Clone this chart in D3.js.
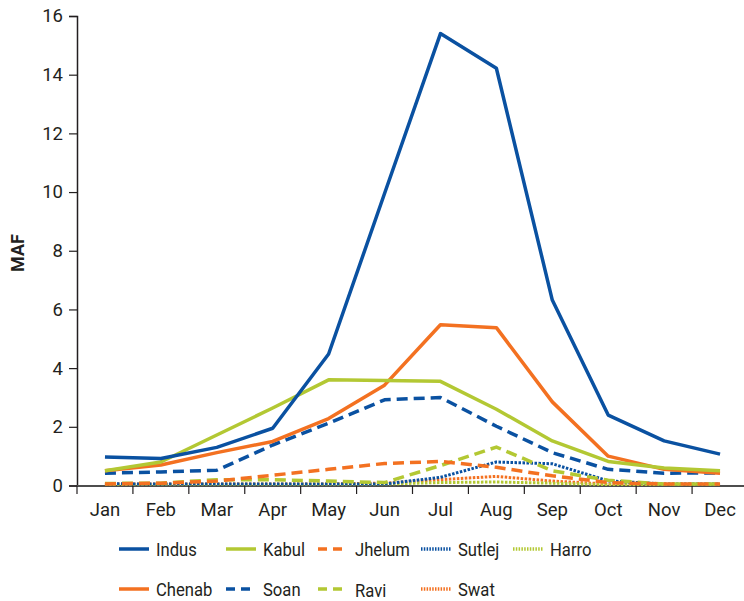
<!DOCTYPE html>
<html><head><meta charset="utf-8">
<script src="https://cdn.jsdelivr.net/npm/d3@7"></script>
<style>
body{margin:0;background:#fff;}
svg{display:block;font-family:Roboto,"Noto Sans",sans-serif;}
</style></head>
<body><svg id="c" width="744" height="601"></svg>
<script>
const months = ["Jan","Feb","Mar","Apr","May","Jun","Jul","Aug","Sep","Oct","Nov","Dec"];
const yTicks = [0,2,4,6,8,10,12,14,16];
const indus  = [0.97,0.92,1.3,1.95,4.48,9.95,15.4,14.22,6.32,2.4,1.52,1.07];
const kabul  = [0.5,0.8,1.72,2.64,3.6,3.58,3.55,2.6,1.52,0.82,0.6,0.5];
const jhelum = [0.05,0.08,0.15,0.35,0.55,0.75,0.82,0.62,0.33,0.1,0.05,0.05];
const sutlej = [0.06,0.05,0.05,0.05,0.05,0.05,0.28,0.8,0.74,0.16,0.05,0.05];
const harro  = [0.03,0.03,0.03,0.03,0.03,0.05,0.1,0.12,0.08,0.03,0.03,0.03];
const chenab = [0.5,0.7,1.12,1.5,2.28,3.42,5.48,5.38,2.85,1.0,0.55,0.42];
const soan   = [0.42,0.46,0.52,1.38,2.12,2.92,3.0,2.02,1.12,0.55,0.42,0.43];
const ravi   = [0.07,0.08,0.2,0.2,0.15,0.1,0.68,1.31,0.5,0.18,0.05,0.05];
const swat   = [0.05,0.05,0.05,0.05,0.05,0.08,0.2,0.31,0.15,0.05,0.04,0.04];

const BLUE="#0a51a1", GREEN="#b3c833", ORANGE="#f37121", TXT="#231f20";
const series = [
  {name:"Swat",   values:swat,   color:ORANGE, dash:"2.5,1.5", w:3, curve:d3.curveLinear},
  {name:"Harro",  values:harro,  color:GREEN,  dash:"2.5,1.5", w:3, curve:d3.curveLinear},
  {name:"Sutlej", values:sutlej, color:BLUE,   dash:"2.5,1.5", w:3, curve:d3.curveLinear},
  {name:"Ravi",   values:ravi,   color:GREEN,  dash:"11,6",    w:3.5, curve:d3.curveLinear},
  {name:"Jhelum", values:jhelum, color:ORANGE, dash:"11,6",    w:3.5, curve:d3.curveLinear},
  {name:"Soan",   values:soan,   color:BLUE,   dash:"11,6",    w:3.5, curve:d3.curveLinear},
  {name:"Chenab", values:chenab, color:ORANGE, dash:null,      w:3.5, curve:d3.curveLinear},
  {name:"Kabul",  values:kabul,  color:GREEN,  dash:null,      w:3.5, curve:d3.curveLinear},
  {name:"Indus",  values:indus,  color:BLUE,   dash:null,      w:3.5, curve:d3.curveLinear}
];
const legendRows = [["Indus","Kabul","Jhelum","Sutlej","Harro"],["Chenab","Soan","Ravi","Swat"]];

const svg = d3.select("#c");
const x = d3.scaleBand().domain(months).range([77,748]).padding(0);
const y = d3.scaleLinear().domain([0,16]).range([485.5,16]);

// y axis
const ya = svg.append("g").attr("transform","translate(77,0)")
  .call(d3.axisLeft(y).tickValues(yTicks).tickSize(8).tickPadding(6).tickFormat(d3.format("d")));
ya.select(".domain").attr("stroke",TXT).attr("stroke-width",1.5);
ya.selectAll(".tick line").attr("stroke",TXT).attr("stroke-width",1.2);
ya.selectAll("text").attr("font-size",18.5).attr("fill",TXT).attr("font-family","Roboto,sans-serif");

// x axis
const xa = svg.append("g").attr("transform","translate(0,486)")
  .call(d3.axisBottom(x).tickSize(0).tickPadding(17));
xa.select(".domain").remove();
xa.append("line").attr("x1",77).attr("x2",744).attr("y1",0).attr("y2",0).attr("stroke","#4d4d4d").attr("stroke-width",2);
xa.selectAll(".tick text").attr("font-size",18.5).attr("fill",TXT).attr("font-family","Roboto,sans-serif");
xa.selectAll(".tb").data(months).enter().append("line")
  .attr("x1",d=>x(d)).attr("x2",d=>x(d)).attr("y1",0).attr("y2",8)
  .attr("stroke",TXT).attr("stroke-width",1.2);

svg.append("text").attr("transform","translate(24,253) rotate(-90)")
  .attr("text-anchor","middle").attr("font-size",18).attr("font-weight","bold")
  .attr("fill",TXT).text("MAF");

// lines
const cx = (d,i)=> x(months[i]) + x.bandwidth()/2;
series.forEach(s=>{
  const line = d3.line().x((d,i)=>cx(d,i)).y(d=>y(d)).curve(s.curve);
  svg.append("path").datum(s.values).attr("d",line)
    .attr("fill","none").attr("stroke",s.color).attr("stroke-width",s.w)
    .attr("stroke-dasharray",s.dash).attr("stroke-linejoin","round");
});

// legend
const colX = [119,226,318,421,513];
const rowY = [549,589];
const byName = Object.fromEntries(series.map(s=>[s.name,s]));
legendRows.forEach((row,ri)=>row.forEach((n,ci)=>{
  const s = byName[n];
  const g = svg.append("g").attr("transform",`translate(${colX[ci]},${rowY[ri]})`);
  g.append("line").attr("x1",0).attr("x2",30).attr("y1",0).attr("y2",0)
    .attr("stroke",s.color).attr("stroke-width",3.5)
    .attr("stroke-dasharray", s.dash ? (s.dash==="11,6" ? "9,6" : "1.5,1.3") : null);
  g.append("text").attr("transform",`translate(37,${n==="Ravi" ? 7.5 : 6.5}) scale(0.9,1)`)
    .attr("font-size",18.5).attr("fill",TXT).text(n);
}));
</script></body></html>
